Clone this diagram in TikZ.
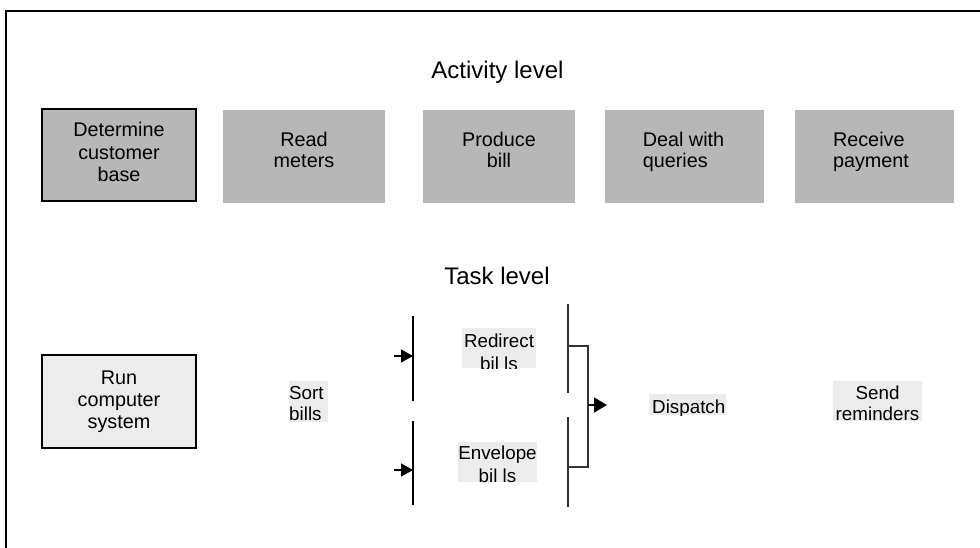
\documentclass[tikz,border=0pt]{standalone}
\usepackage{fontspec}
\setmainfont{Liberation Sans}
\usetikzlibrary{arrows.meta}
\definecolor{actgrey}{HTML}{B7B7B7}
\definecolor{lightbg}{HTML}{ECECEC}
\definecolor{bargrey}{HTML}{333333}
\begin{document}
\begin{tikzpicture}[x=1pt,y=-1pt,
  frame/.style={line width=2pt},
  actbox/.style={rectangle, fill=actgrey, inner sep=0, minimum height=93},
  taskbox/.style={rectangle, draw, line width=1.3pt, inner sep=0},
  lblbg/.style={rectangle, fill=lightbg, inner sep=0},
  title/.style={font=\fontsize{24}{28}\selectfont, inner sep=0, anchor=base},
  boxtext/.style={font=\fontsize{19.8}{22}\selectfont, align=center, inner sep=0, anchor=base},
  lbltext/.style={font=\fontsize{18.8}{21}\selectfont, align=center, inner sep=0, anchor=base},
  thinbar/.style={line width=1.2pt},
  thickbar/.style={line width=2pt, bargrey},
  arr/.style={line width=1.3pt, -{Triangle[length=12pt,width=13pt]}},
  bigarr/.style={line width=1.6pt, -{Triangle[length=13pt,width=15pt]}}
]
\useasboundingbox (0,0) rectangle (980,548);
% frame
\coordinate (fbl) at (6,549);
\coordinate (ftl) at (6,11);
\coordinate (ftr) at (981,11);
\draw[frame] (fbl) -- (ftl) -- (ftr);

% titles
\node[title] (acttitle) at (497.5,79) {Activity level};
\node[title] (tasktitle) at (497,284) {Task level};

% activity level
\node[actbox, draw, line width=1.3pt, minimum width=154, minimum height=92] (det) at (119,155) {};
\node[boxtext, font=\fontsize{19.8}{22.5}\selectfont] (dett) at (119,182) {Determine\\customer\\base};
\node[actbox, minimum width=162] (read) at (304,156.5) {};
\node[boxtext, font=\fontsize{19.8}{21}\selectfont] (readt) at (304,168) {Read\\meters};
\node[actbox, minimum width=152] (prod) at (499,156.5) {};
\node[boxtext, font=\fontsize{19.8}{21}\selectfont] (prodt) at (499,168) {Produce\\bill};
\node[actbox, minimum width=159] (deal) at (684.5,156.5) {};
\node[boxtext, font=\fontsize{19.8}{21}\selectfont, align=left] (dealt) at (683.5,168) {Deal with\\queries};
\node[actbox, minimum width=159] (recv) at (874.5,156.5) {};
\node[boxtext, font=\fontsize{19.8}{21}\selectfont, align=left] (recvt) at (871,168) {Receive\\payment};

% task level
\node[taskbox, fill=lightbg, minimum width=154, minimum height=93] (run) at (119,401.5) {};
\node[boxtext] (runt) at (119,428) {Run\\computer\\system};

\node[lblbg, minimum width=39, minimum height=41] (sortbg) at (308.5,401.5) {};
\node[lbltext, align=left, anchor=base west] (sortt) at (289,420) {Sort\\bills};

% left bars and arrows
\coordinate (b1t) at (413,316);
\coordinate (b1b) at (413,401);
\coordinate (b2t) at (413,421);
\coordinate (b2b) at (413,505);
\draw[thinbar] (b1t) -- (b1b);
\draw[thinbar] (b2t) -- (b2b);
\coordinate (a1s) at (394,356);
\coordinate (a2s) at (394,470);
\draw[arr] (a1s) -- (a1s -| b1t);
\draw[arr] (a2s) -- (a2s -| b2t);

% redirect bills
\node[lblbg, minimum width=74, minimum height=40] (redirbg) at (499,348) {};
\begin{scope}
\clip (redirbg.south west) rectangle (redirbg.north east);
\node[lbltext, font=\fontsize{18.8}{23}\selectfont] (redirt) at (499,370) {Redirect\\bil ls};
\end{scope}

% envelope bills
\node[lblbg, minimum width=79, minimum height=40] (envbg) at (497.5,462) {};
\begin{scope}
\clip (envbg.south west) rectangle (envbg.north east);
\node[lbltext, font=\fontsize{18.8}{23}\selectfont] (envt) at (497.5,482) {Envelope\\bil ls};
\end{scope}

% right bars and bracket
\coordinate (b3t) at (568,304);
\coordinate (b3b) at (568,393);
\coordinate (b4t) at (568,417);
\coordinate (b4b) at (568,507);
\draw[thickbar] (b3t) -- (b3b);
\draw[thickbar] (b4t) -- (b4b);
\coordinate (k1) at (568,346);
\coordinate (k2) at (588,346);
\coordinate (k3) at (588,467);
\coordinate (k4) at (568,467);
\draw[thickbar, line width=1.6pt] (k1) -- (k2) -- (k3) -- (k4);
\coordinate (ds) at (588,405);
\coordinate (de) at (607,405);
\draw[bigarr] (ds) -- (de);

% dispatch
\node[lblbg, minimum width=77, minimum height=21] (dispbg) at (687.5,404.5) {};
\begin{scope}
\clip (dispbg.south west) rectangle (dispbg.north east);
\node[lbltext, anchor=base west] (dispt) at (652,413) {Dispatch};
\end{scope}

% send reminders
\node[lblbg, minimum width=89, minimum height=40] (sendbg) at (877.5,401) {};
\node[lbltext] (sendt) at (877.5,420) {Send\\reminders};
\end{tikzpicture}
\end{document}
